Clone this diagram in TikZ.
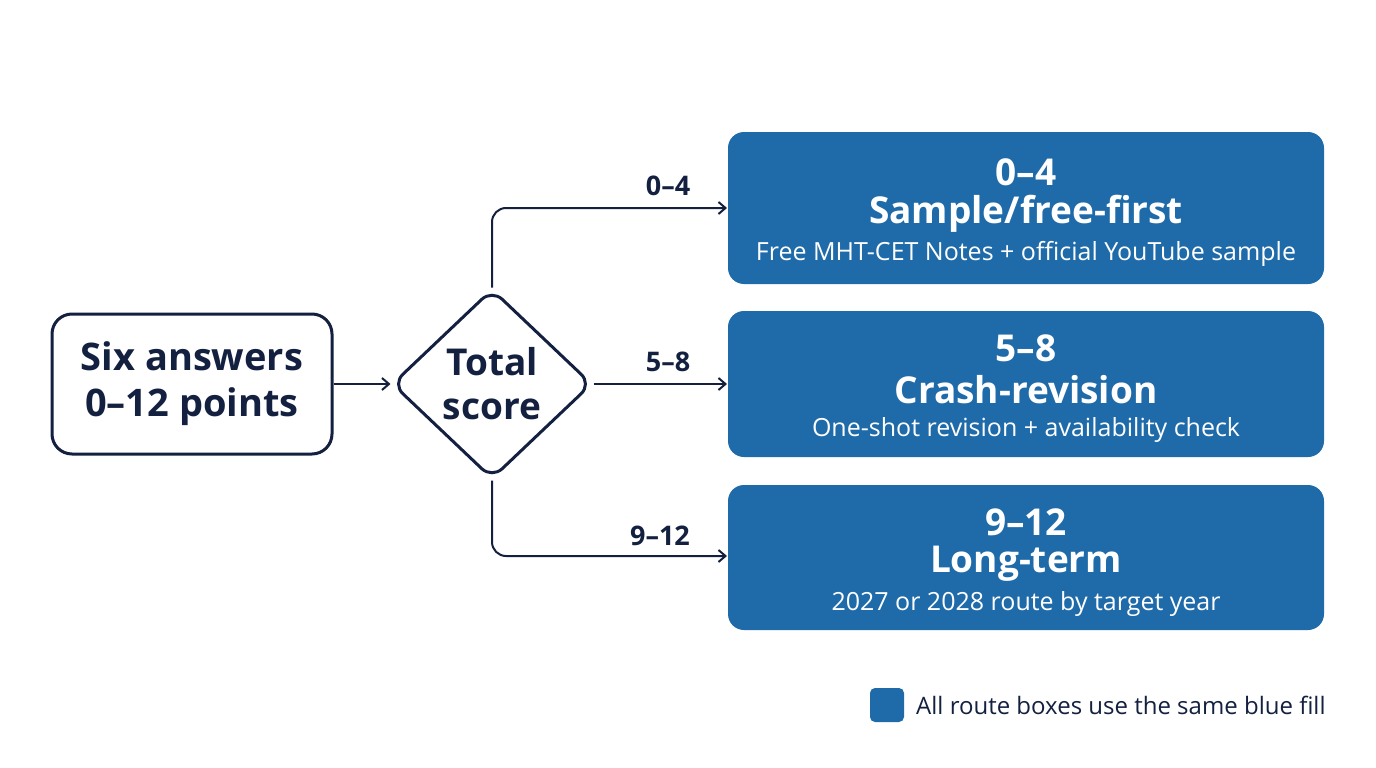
\documentclass[tikz,border=0pt]{standalone}
\usepackage{fontspec}
\setmainfont{Open Sans}
\usetikzlibrary{shapes.geometric,arrows.meta}
\definecolor{navy}{HTML}{13203F}
\definecolor{rblue}{HTML}{1F6BAA}
\begin{document}
\begin{tikzpicture}[x=1pt,y=-1pt,
  line/.style={draw=navy,line width=2pt},
  arr/.style={line,-{Straight Barb[length=7pt,width=12pt]}},
  route/.style={fill=rblue,rounded corners=16pt,minimum width=596pt,align=center,text=white,inner sep=0pt},
  lab/.style={font=\fontsize{27}{30}\selectfont\bfseries,text=navy}]
\useasboundingbox (0,0) rectangle (1376,768);
\node[line,line width=3pt,fill=white,rounded corners=20pt,minimum width=280pt,minimum height=140pt,
  font=\fontsize{38}{46}\selectfont\bfseries,text=navy,align=center] (start) at (192,384) {Six answers\\0–12 points};
\node[diamond,line,line width=3pt,rounded corners=14pt,minimum width=200pt,minimum height=190pt,inner sep=0pt,
  font=\fontsize{37}{44}\selectfont\bfseries,text=navy,align=center] (dec) at (492,384) {Total\\score};
\node[route,minimum height=152pt] (r1) at (1026,208) {};
\node[route,minimum height=146pt] (r2) at (1026,384) {};
\node[route,minimum height=145pt] (r3) at (1026,557.5) {};
\foreach \n/\a/\b/\c/\y in {r1/0–4/Sample\slash free-first/Free MHT-CET Notes + official YouTube sample/172,
  r2/5–8/Crash-revision/One-shot revision + availability check/348,
  r3/9–12/Long-term/2027 or 2028 route by target year/522}{
  \node[text=white,font=\fontsize{37}{40}\selectfont\bfseries] (\n a) at (1026,\y) {\a};
  \node[text=white,font=\fontsize{37}{40}\selectfont\bfseries] (\n b) at (1026,\y+42) {\b};
  \node[text=white,font=\fontsize{25}{28}\selectfont] (\n c) at (1026,\y+82) {\c};
}
\coordinate (t1) at (727,208);
\coordinate (t3) at (727,556);
\draw[arr] (start.east) -- (dec.west);
\draw[arr,rounded corners=14pt] (dec.north) -- (492,208) -- (t1);
\draw[arr] (dec.east) -- (727,384);
\draw[arr,rounded corners=14pt] (dec.south) -- (492,556) -- (t3);
\node[lab] (l1) at (668,186) {0–4};
\node[lab] (l2) at (668,362) {5–8};
\node[lab] (l3) at (660,536) {9–12};
\node[fill=rblue,rounded corners=5pt,minimum size=34pt,inner sep=0pt] (leg) at (887,705) {};
\node[anchor=west,text=navy,font=\fontsize{24}{28}\selectfont,inner sep=0pt] (legt) at (916,705) {All route boxes use the same blue fill};
\end{tikzpicture}
\end{document}
